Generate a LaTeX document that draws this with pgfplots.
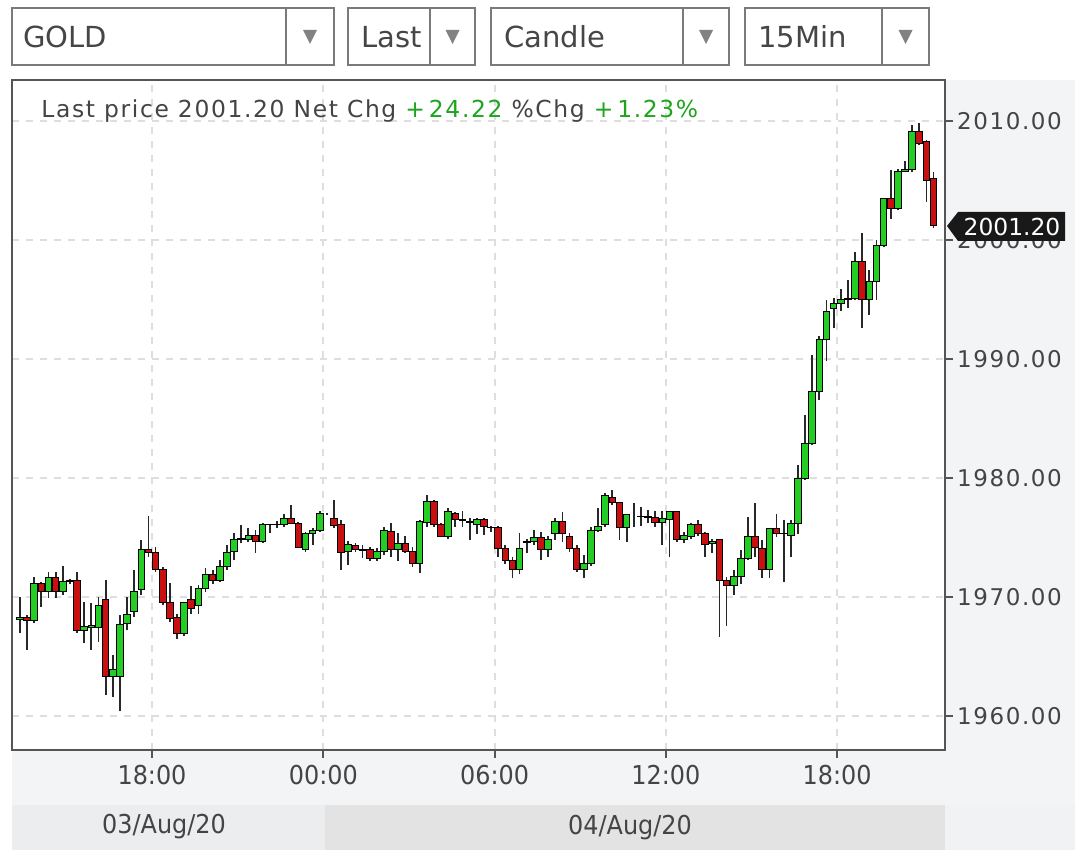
\documentclass[border=0pt]{standalone}
\usepackage{pgfplots}
\pgfplotsset{compat=1.18}
\usepackage{pgfplotstable}
\usepackage{fontspec}
\setmainfont{DejaVu Sans}
\newfontfamily\hdrfont[LetterSpace=7]{DejaVu Sans}
\newfontfamily\xfont[FakeStretch=0.92]{DejaVu Sans}
\definecolor{cgreen}{RGB}{35,205,35}
\definecolor{cred}{RGB}{200,16,16}
\definecolor{wick}{RGB}{40,40,40}
\definecolor{gridc}{RGB}{222,222,222}
\definecolor{axc}{RGB}{85,85,85}
\definecolor{labc}{RGB}{68,68,68}
\definecolor{txtgreen}{RGB}{30,165,30}
\definecolor{panel}{RGB}{243,244,246}
\definecolor{dateA}{RGB}{236,237,239}
\definecolor{dateB}{RGB}{227,227,228}
\definecolor{dateC}{RGB}{241,242,244}
\definecolor{boxc}{RGB}{122,122,122}
\definecolor{tric}{RGB}{130,130,130}
\definecolor{ddtext}{RGB}{70,70,70}
\definecolor{tagc}{RGB}{25,25,25}

% x = hours after 18:00 on 03/Aug/20; o h l c = open high low close
\pgfplotstableread{
x o h l c
-4.625 1968.1 1970.0 1967.0 1968.3
-4.375 1968.3 1968.5 1965.55 1968.0
-4.125 1968.0 1971.7 1967.8 1971.15
-3.875 1971.15 1971.3 1969.2 1970.45
-3.625 1970.45 1972.1 1969.9 1971.6
-3.375 1971.6 1972.1 1969.9 1970.5
-3.125 1970.5 1972.6 1970.2 1971.3
-2.875 1971.3 1971.5 1971.1 1971.35
-2.625 1971.4 1972.1 1966.95 1967.2
-2.375 1967.2 1969.6 1966.1 1967.5
-2.125 1967.45 1969.5 1965.55 1967.6
-1.875 1967.4 1970.0 1966.25 1969.3
-1.625 1969.8 1971.4 1961.8 1963.3
-1.375 1963.3 1965.1 1961.6 1963.9
-1.125 1963.3 1968.5 1960.4 1967.65
-0.875 1967.8 1970.0 1967.2 1968.5
-0.625 1968.8 1972.3 1968.35 1970.45
-0.375 1970.6 1974.8 1970.2 1973.95
-0.125 1974.0 1976.8 1973.4 1973.7
0.125 1973.7 1974.2 1972.1 1972.3
0.375 1972.3 1972.5 1969.3 1969.5
0.625 1969.5 1971.15 1967.9 1968.2
0.875 1968.3 1968.6 1966.5 1966.95
1.125 1966.95 1969.6 1966.7 1969.5
1.375 1969.75 1970.9 1968.6 1969.05
1.625 1969.3 1971.0 1968.6 1970.7
1.875 1970.7 1972.4 1970.4 1971.85
2.125 1971.85 1972.3 1971.1 1971.4
2.375 1971.4 1973.1 1971.3 1972.55
2.625 1972.55 1974.4 1972.3 1973.7
2.875 1973.8 1975.35 1973.1 1974.8
3.125 1974.85 1976.05 1974.5 1974.9
3.375 1974.8 1975.8 1974.6 1975.2
3.625 1975.2 1975.6 1973.7 1974.65
3.875 1974.65 1976.2 1974.5 1976.05
4.125 1976.05 1976.1 1975.35 1976.1
4.375 1976.1 1976.4 1975.8 1976.05
4.625 1976.05 1977.0 1975.9 1976.6
4.875 1976.6 1977.7 1976.2 1976.2
5.125 1976.2 1976.3 1974.1 1974.2
5.375 1974.0 1975.5 1973.8 1975.35
5.625 1975.35 1975.8 1974.4 1975.6
5.875 1975.6 1977.2 1975.5 1977.0
6.125 1977.0 1977.1 1976.9 1977.0
6.375 1976.6 1978.15 1975.8 1976.0
6.625 1976.05 1976.5 1972.3 1973.7
6.875 1973.8 1974.7 1972.7 1974.4
7.125 1974.35 1974.5 1973.8 1973.95
7.375 1973.95 1974.4 1973.25 1973.9
7.625 1974.0 1974.2 1973.0 1973.25
7.875 1973.25 1974.1 1973.0 1973.8
8.125 1973.8 1975.9 1973.5 1975.6
8.375 1975.5 1976.2 1973.4 1973.95
8.625 1973.95 1975.35 1973.0 1974.5
8.875 1974.5 1975.1 1973.7 1973.8
9.125 1973.8 1974.2 1972.5 1972.83
9.375 1972.83 1976.5 1972.0 1976.33
9.625 1976.3 1978.57 1975.9 1978.0
9.875 1978.0 1978.15 1975.9 1976.05
10.125 1976.05 1976.2 1975.0 1975.07
10.375 1975.07 1977.45 1974.9 1977.17
10.625 1977.0 1977.17 1975.9 1976.5
10.875 1976.5 1977.2 1975.9 1976.45
11.125 1976.3 1976.6 1974.8 1976.35
11.375 1976.05 1976.6 1975.3 1976.5
11.625 1976.5 1976.6 1975.2 1975.9
11.875 1975.8 1976.0 1975.5 1975.85
12.125 1975.8 1976.0 1973.4 1974.1
12.375 1974.1 1974.4 1972.8 1973.1
12.625 1973.1 1973.4 1971.57 1972.27
12.875 1972.27 1975.35 1971.9 1974.1
13.125 1974.6 1974.9 1973.7 1974.65
13.375 1974.65 1975.6 1974.4 1975.0
13.625 1975.0 1975.5 1973.1 1973.95
13.875 1973.95 1975.1 1973.4 1974.8
14.125 1975.3 1976.6 1974.8 1976.33
14.375 1976.33 1977.17 1974.6 1975.35
14.625 1975.07 1975.35 1973.8 1974.1
14.875 1974.1 1974.4 1972.1 1972.27
15.125 1972.27 1973.5 1971.57 1972.8
15.375 1972.8 1975.9 1972.6 1975.6
15.625 1975.6 1977.45 1975.5 1975.9
15.875 1976.05 1978.7 1975.9 1978.57
16.125 1978.4 1979.0 1977.7 1977.9
16.375 1977.9 1978.0 1974.8 1975.8
16.625 1975.8 1977.0 1974.6 1976.9
16.875 1976.9 1977.9 1975.9 1976.9
17.125 1976.8 1977.6 1976.0 1976.75
17.375 1976.75 1977.3 1976.2 1976.7
17.625 1976.7 1977.2 1975.9 1976.3
17.875 1976.3 1977.2 1974.4 1976.6
18.125 1976.5 1977.2 1973.4 1977.17
18.375 1977.17 1977.2 1974.65 1974.8
18.625 1974.8 1975.5 1974.5 1975.2
18.875 1975.1 1976.2 1974.9 1976.05
19.125 1976.05 1976.5 1975.1 1975.35
19.375 1975.35 1975.5 1973.4 1974.37
19.625 1974.5 1974.9 1973.7 1974.65
19.875 1974.8 1974.9 1966.67 1971.4
20.125 1971.4 1971.7 1967.6 1971.0
20.375 1971.0 1972.3 1970.2 1971.7
20.625 1971.7 1973.95 1971.1 1973.25
20.875 1973.25 1976.75 1973.1 1975.07
21.125 1975.07 1977.87 1973.4 1974.2
21.375 1974.1 1974.8 1971.6 1972.27
21.625 1972.27 1975.8 1971.6 1975.77
21.875 1975.77 1977.0 1975.07 1975.35
22.125 1975.35 1976.5 1971.3 1975.3
22.375 1975.2 1976.5 1973.4 1976.2
22.625 1976.2 1981.1 1975.3 1979.97
22.875 1979.97 1985.3 1979.8 1982.91
23.125 1982.9 1990.34 1982.8 1987.25
23.375 1987.25 1991.9 1986.55 1991.6
23.625 1991.6 1994.96 1989.8 1993.98
23.875 1994.25 1995.1 1992.6 1994.68
24.125 1994.68 1995.9 1994.0 1994.96
24.375 1994.96 1996.6 1994.3 1995.1
24.625 1995.1 1999.0 1995.0 1998.18
24.875 1998.18 2000.56 1992.6 1994.96
25.125 1994.96 1997.5 1993.7 1996.5
25.375 1996.5 2000.0 1995.0 1999.58
25.625 1999.58 2003.5 1999.4 2003.5
25.875 2003.5 2005.88 2001.8 2002.66
26.125 2002.66 2006.0 2002.5 2005.74
26.375 2005.74 2006.6 2005.7 2005.9
26.625 2005.9 2009.66 2005.7 2009.1
26.875 2009.1 2009.8 2008.0 2008.12
27.125 2008.26 2008.4 2003.2 2005.04
27.375 2005.18 2005.7 2001.0 2001.2
}\candles

\pgfplotsset{
  chartframe/.style={
    at={(6pt,55.5pt)}, anchor=south west,
    scale only axis, width=466.5pt, height=335pt,
    xmin=-4.904, xmax=27.776, ymin=1957.14, ymax=2013.45,
  }
}

\begin{document}
\begin{tikzpicture}
\path[use as bounding box] (0,0) rectangle (540pt,430.5pt);
\fill[white] (0,0) rectangle (540pt,430.5pt);
% bottom and right panels
\fill[panel] (6pt,28pt) rectangle (537.5pt,55.5pt);
\fill[panel] (472.5pt,28pt) rectangle (537.5pt,390.5pt);
\fill[dateA] (6pt,5.5pt) rectangle (162.5pt,28pt);
\fill[dateB] (162.5pt,5.5pt) rectangle (472.5pt,28pt);
\fill[dateC] (472.5pt,5.5pt) rectangle (537.5pt,28pt);
\node[font=\xfont\fontsize{13}{15}\selectfont, text=labc] at (82pt,17pt) {03/Aug/20};
\node[font=\xfont\fontsize{13}{15}\selectfont, text=labc] at (315pt,16.5pt) {04/Aug/20};

% drop-down boxes
\foreach \xa/\xd/\xb/\txt/\tx in {6/143/167/GOLD/11.5, 174/215/237.5/Last/180.5, 245.5/341.5/364.5/Candle/252, 372.5/441/464.5/15Min/379}{
  \draw[boxc, line width=1pt, fill=white] (\xa pt,398pt) rectangle (\xb pt,426.5pt);
  \draw[boxc, line width=1pt] (\xd pt,398pt) -- (\xd pt,426.5pt);
  \pgfmathsetmacro{\tc}{(\xd+\xb)/2}
  \fill[tric] (\tc pt-3.5pt,415.5pt) -- (\tc pt+3.5pt,415.5pt) -- (\tc pt,408.5pt) -- cycle;
  \node[anchor=base west, inner sep=0pt, font=\fontsize{14.5}{18}\selectfont, text=ddtext] at (\tx pt,406.5pt) {\txt};
}

% axis with grid, frame and wicks
\begin{axis}[chartframe,
  axis background/.style={fill=white},
  xtick={0,6,12,18,24},
  xticklabels={18:00,00:00,06:00,12:00,18:00},
  ytick={1960,1970,1980,1990,2000,2010},
  yticklabels={1960.00,1970.00,1980.00,1990.00,2000.00,2010.00},
  xtick pos=bottom, ytick pos=right, yticklabel pos=right,
  tick align=outside, major tick length=4pt,
  grid=major,
  major grid style={draw=gridc, line width=0.9pt, dash pattern=on 3.5pt off 3.5pt},
  axis line style={draw=axc, line width=1pt},
  tick style={draw=axc, line width=1pt},
  x tick label style={font=\xfont\fontsize{13}{15}\selectfont, text=labc},
  y tick label style={font=\hdrfont\fontsize{11.5}{14}\selectfont, text=labc, xshift=-1.5pt},
]
\addplot[draw=none, mark=none,
  error bars/.cd, y dir=plus, y explicit, error mark=none,
  error bar style={draw=wick, solid, line width=0.9pt}]
  table[x=x, y=l, y error expr={\thisrow{h}-\thisrow{l}}] \candles;
\end{axis}

% candle bodies
\begin{axis}[chartframe, hide axis, ybar stacked, bar width=3.3pt]
\addplot[draw=none, fill=none] table[x=x, y expr={min(\thisrow{o},\thisrow{c})}] \candles;
\addplot[fill=cgreen, draw=black, line width=0.5pt] table[x=x, y expr={max(\thisrow{c}-\thisrow{o},0)}] \candles;
\addplot[fill=cred, draw=black, line width=0.5pt] table[x=x, y expr={max(\thisrow{o}-\thisrow{c},0)}] \candles;
\end{axis}

% header text
\node[anchor=base west, inner sep=0pt, font=\hdrfont\fontsize{11.7}{14}\selectfont, text=labc] at (20.5pt,371.7pt)
  {Last price 2001.20 Net Chg \textcolor{txtgreen}{+\,24.22} \%Chg \textcolor{txtgreen}{+\,1.23\%}};

% last price tag
\fill[tagc] (473.5pt,317.5pt) -- (479pt,324.5pt) -- (532.5pt,324.5pt) -- (532.5pt,310pt) -- (479pt,310pt) -- cycle;
\node[font=\fontsize{11.7}{14}\selectfont, text=white, inner sep=0pt] at (506pt,317.2pt) {2001.20};
\end{tikzpicture}
\end{document}
